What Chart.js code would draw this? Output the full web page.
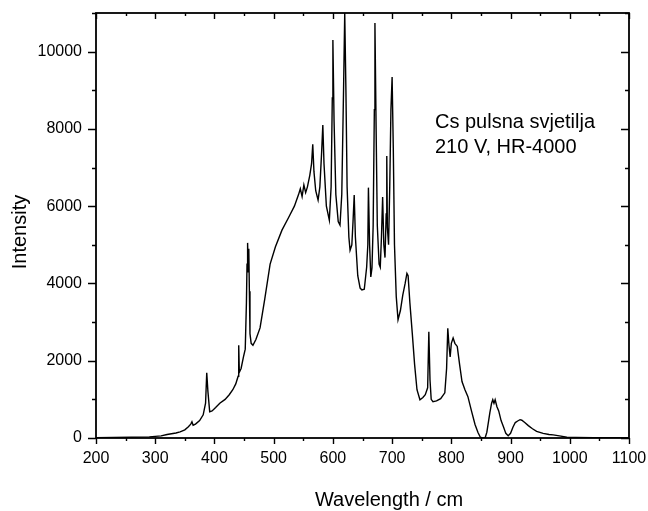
<!DOCTYPE html>
<html>
<head>
<meta charset="utf-8">
<script src="https://cdn.jsdelivr.net/npm/chart.js@4/dist/chart.umd.min.js"></script>
<style>
html,body{margin:0;padding:0;background:#fff;}
#wrap{width:648px;height:511px;}
</style>
</head>
<body>
<div id="wrap"><canvas id="c" width="648" height="511"></canvas></div>
<script>
// ---- data ----
const wavelength = [200,230,260,290,310,320,335,342,350,356,360,362,364,368,375,381,385,387,389,392,396,402,409,418,425,431,436,440,441,442,445,449,452,454,455,456,457,458,459,460,462,465,470,477,485,494,503,514,525,535,542,545,548,551,554,557,561,564,566,568,571,575,578,581,583,585,589,594,597,599,600,602,605,609,612,615,618,620,622,624,627,629,632,634,636,638,642,646,649,653,657,659,660,662,664,666,668,670,671,673,675,678,680,682,684,686,688,690,691,692,694,696,698,700,702,704,707,710,714,718,722,725,727,730,734,738,742,747,752,756,760,762,764,766,769,775,782,789,792,794,796,798,800,803,806,810,814,818,823,828,834,840,845,849,852,857,860,863,865,868,870,872,874,877,880,884,888,892,896,900,904,908,912,916,919,924,930,937,944,955,965,972,985,995,1010,1040,1070,1100];
const intensity = [10,15,20,30,55,90,130,160,210,290,360,420,330,360,450,600,900,1690,1200,680,700,790,900,1000,1120,1250,1400,1600,2400,1700,1800,2100,2300,3500,4500,5050,4300,4900,3800,2700,2450,2400,2550,2850,3600,4500,4950,5380,5700,6000,6300,6450,6250,6550,6350,6500,6800,7100,7600,6900,6400,6160,6500,7400,8100,7100,6000,5640,6500,8800,10300,8200,6300,5600,5510,6300,9000,11000,9000,6500,5200,4860,5000,5600,6290,5200,4200,3880,3830,3850,4420,5000,6480,5000,4170,4400,5500,8500,10740,8000,5500,4500,4420,5200,6240,5000,4670,5800,7300,5450,5000,6500,8500,9340,7500,5000,3660,3060,3300,3700,4000,4260,4200,3500,2720,1900,1250,990,1050,1120,1300,2750,1500,1000,940,960,1020,1170,1800,2840,2400,2100,2450,2590,2450,2370,1900,1460,1250,1070,700,350,140,20,0,0,150,450,650,900,990,900,990,810,700,450,290,120,60,120,280,400,440,475,460,400,320,240,170,120,90,80,50,20,15,10,8,5];
const xTicks = [200,300,400,500,600,700,800,900,1000,1100];
const xMinorTicks = [250,350,450,550,650,750,850,950,1050];
const yTicks = [0,2000,4000,6000,8000,10000];
const yMinorTicks = [1000,3000,5000,7000,9000,11000];
const xTitle = 'Wavelength / cm';
const yTitle = 'Intensity';
const noteLines = ['Cs pulsna svjetilja', '210 V, HR-4000'];

const FONT = "'Liberation Sans', Arial, sans-serif";
const points = wavelength.map((w, i) => ({x: w, y: intensity[i]}));

const framePlugin = {
  id: 'frame',
  afterDraw(chart) {
    const {ctx, chartArea: a, scales: {x, y}} = chart;
    ctx.save();
    ctx.strokeStyle = '#000';
    ctx.lineWidth = 1.8;
    ctx.strokeRect(a.left, a.top, a.right - a.left, a.bottom - a.top);
    ctx.lineWidth = 1.4;
    ctx.beginPath();
    const xt = (v, len) => {
      const p = Math.round(x.getPixelForValue(v)) + 0.5;
      ctx.moveTo(p, a.bottom); ctx.lineTo(p, a.bottom + len);
      ctx.moveTo(p, a.top); ctx.lineTo(p, a.top + len);
    };
    const yt = (v, len) => {
      const p = Math.round(y.getPixelForValue(v)) + 0.5;
      ctx.moveTo(a.left, p); ctx.lineTo(a.left - len, p);
      ctx.moveTo(a.right, p); ctx.lineTo(a.right - len, p);
    };
    xTicks.forEach(v => xt(v, 6));
    xMinorTicks.forEach(v => xt(v, 3));
    yTicks.forEach(v => yt(v, 8));
    yMinorTicks.forEach(v => yt(v, 4));
    ctx.stroke();

    ctx.fillStyle = '#000';
    ctx.font = '20px ' + FONT;
    ctx.textAlign = 'center';
    ctx.textBaseline = 'alphabetic';
    ctx.fillText(xTitle, 389, 506);
    ctx.save();
    ctx.translate(26, 232);
    ctx.rotate(-Math.PI / 2);
    ctx.fillText(yTitle, 0, 0);
    ctx.restore();

    ctx.textAlign = 'left';
    ctx.fillText(noteLines[0], 435, 128);
    ctx.fillText(noteLines[1], 435, 153);
    ctx.restore();
  }
};

const zeroPad = s => { s.paddingTop = 0; s.paddingBottom = 0; s.paddingLeft = 0; s.paddingRight = 0; };

new Chart(document.getElementById('c'), {
  type: 'line',
  data: {
    datasets: [{
      data: points,
      borderColor: '#000',
      borderWidth: 1.4,
      pointRadius: 0,
      tension: 0,
      fill: false
    }]
  },
  options: {
    responsive: false,
    animation: false,
    devicePixelRatio: 1,
    layout: {padding: {left: 0, right: 19, top: 13, bottom: 0}},
    plugins: {legend: {display: false}, tooltip: {enabled: false}},
    scales: {
      x: {
        type: 'linear', min: 200, max: 1100,
        grid: {display: false, drawTicks: false},
        border: {display: false},
        afterBuildTicks: s => { s.ticks = xTicks.map(v => ({value: v})); },
        afterFit: s => { s.height = 73; zeroPad(s); },
        ticks: {color: '#000', font: {family: FONT, size: 16}, padding: 11, maxRotation: 0, autoSkip: false, callback: v => String(v)}
      },
      y: {
        type: 'linear', min: 0, max: 11000,
        grid: {display: false, drawTicks: false},
        border: {display: false},
        afterBuildTicks: s => { s.ticks = yTicks.map(v => ({value: v})); },
        afterFit: s => { s.width = 96; zeroPad(s); },
        ticks: {color: '#000', font: {family: FONT, size: 16}, padding: 14, autoSkip: false, callback: v => String(v)}
      }
    }
  },
  plugins: [framePlugin]
});
</script>
</body>
</html>
